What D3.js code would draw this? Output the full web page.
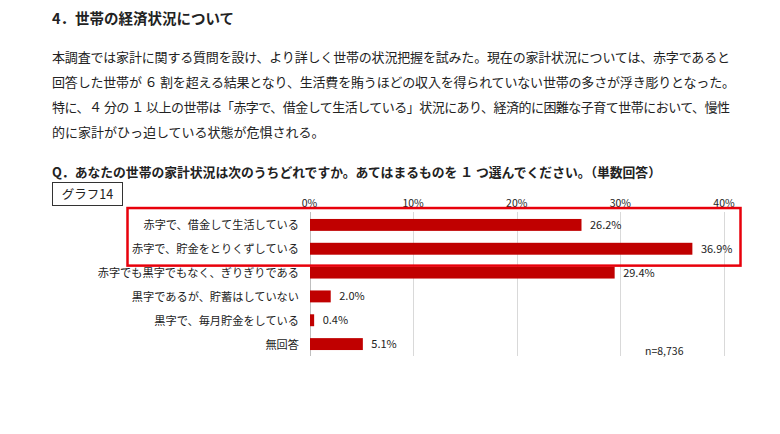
<!DOCTYPE html>
<html><head><meta charset="utf-8">
<script src="https://cdn.jsdelivr.net/npm/d3@7"></script>
<style>
html,body{margin:0;padding:0;background:#fff;}
svg{display:block;}
text{font-family:"Noto Sans CJK JP","Noto Sans",sans-serif;fill:#222;}
</style></head>
<body>
<svg id="c" width="780" height="434"></svg>
<script>
const heading = "4．世帯の経済状況について";
const paragraph = [
  "本調査では家計に関する質問を設け、より詳しく世帯の状況把握を試みた。現在の家計状況については、赤字であると",
  "回答した世帯が ６ 割を超える結果となり、生活費を賄うほどの収入を得られていない世帯の多さが浮き彫りとなった。",
  "特に、４ 分の １ 以上の世帯は「赤字で、借金して生活している」状況にあり、経済的に困難な子育て世帯において、慢性",
  "的に家計がひっ迫している状態が危惧される。"
];
const paragraphWidths = [678, 683, 678, null];
const question = "Q．あなたの世帯の家計状況は次のうちどれですか。あてはまるものを １ つ選んでください。（単数回答）";
const graphLabel = "グラフ14";
const categories = [
  "赤字で、借金して生活している",
  "赤字で、貯金をとりくずしている",
  "赤字でも黒字でもなく、ぎりぎりである",
  "黒字であるが、貯蓄はしていない",
  "黒字で、毎月貯金をしている",
  "無回答"
];
const values = [26.2, 36.9, 29.4, 2.0, 0.4, 5.1];
const ticks = [0, 10, 20, 30, 40];
const highlighted = [0, 1];
const note = "n=8,736";

const svg = d3.select("#c");

svg.append("text").attr("x", 52).attr("y", 24)
  .attr("font-size", 14.5).attr("font-weight", "bold").text(heading);

paragraph.forEach((t, i) => {
  const el = svg.append("text").attr("x", 52).attr("y", 62 + i * 25)
    .attr("font-size", 13).text(t);
  if (paragraphWidths[i]) el.attr("textLength", paragraphWidths[i]).attr("lengthAdjust", "spacing");
});

svg.append("text").attr("x", 52).attr("y", 177)
  .attr("font-size", 12.8).attr("font-weight", "bold").text(question);

svg.append("rect").attr("x", 52.5).attr("y", 182.5).attr("width", 70).attr("height", 23)
  .attr("fill", "none").attr("stroke", "#333").attr("stroke-width", 1);
svg.append("text").attr("x", 87.5).attr("y", 198.5).attr("text-anchor", "middle")
  .attr("font-size", 12.5).text(graphLabel);

const x = d3.scaleLinear().domain([0, 40]).range([309.5, 724]);
const y = d3.scaleBand().domain(categories).range([213, 356]).paddingInner(0.5).paddingOuter(0.25);

const g = svg.append("g");
g.selectAll("line.grid").data(ticks).join("line")
  .attr("x1", d => Math.round(x(d)) + 0.5).attr("x2", d => Math.round(x(d)) + 0.5)
  .attr("y1", 212).attr("y2", 356)
  .attr("stroke", d => d === 0 ? "#bfbfbf" : "#d9d9d9").attr("stroke-width", 1);

g.selectAll("text.tick").data(ticks).join("text")
  .attr("x", d => x(d)).attr("y", 207).attr("text-anchor", "middle")
  .attr("font-size", 10.5).attr("fill", "#333").text(d => d + "%");

g.selectAll("rect.bar").data(values).join("rect")
  .attr("x", x(0) + 0.5).attr("y", (d, i) => y(categories[i]))
  .attr("width", d => x(d) - x(0)).attr("height", y.bandwidth())
  .attr("fill", "#c00000");

g.selectAll("text.val").data(values).join("text")
  .attr("x", d => x(d) + 9).attr("y", (d, i) => y(categories[i]) + y.bandwidth() / 2 + 4)
  .attr("font-size", 11).attr("fill", "#333").text(d => d.toFixed(1) + "%");

g.selectAll("text.cat").data(categories).join("text")
  .attr("x", 299).attr("y", d => y(d) + y.bandwidth() / 2 + 4.5)
  .attr("text-anchor", "end").attr("font-size", 11.2).text(d => d);

const hTop = y(categories[highlighted[0]]) - y.step() * 0.5 + 1;
const hBot = y(categories[highlighted[highlighted.length - 1]]) + y.bandwidth() + y.step() * 0.5 - 1;
svg.append("rect").attr("x", 127.5).attr("y", hTop).attr("width", 613).attr("height", hBot - hTop)
  .attr("fill", "none").attr("stroke", "#e8000b").attr("stroke-width", 2.5);

svg.append("text").attr("x", 645).attr("y", 355).attr("font-size", 10.5).attr("fill", "#333").text(note);
</script>
</body></html>
